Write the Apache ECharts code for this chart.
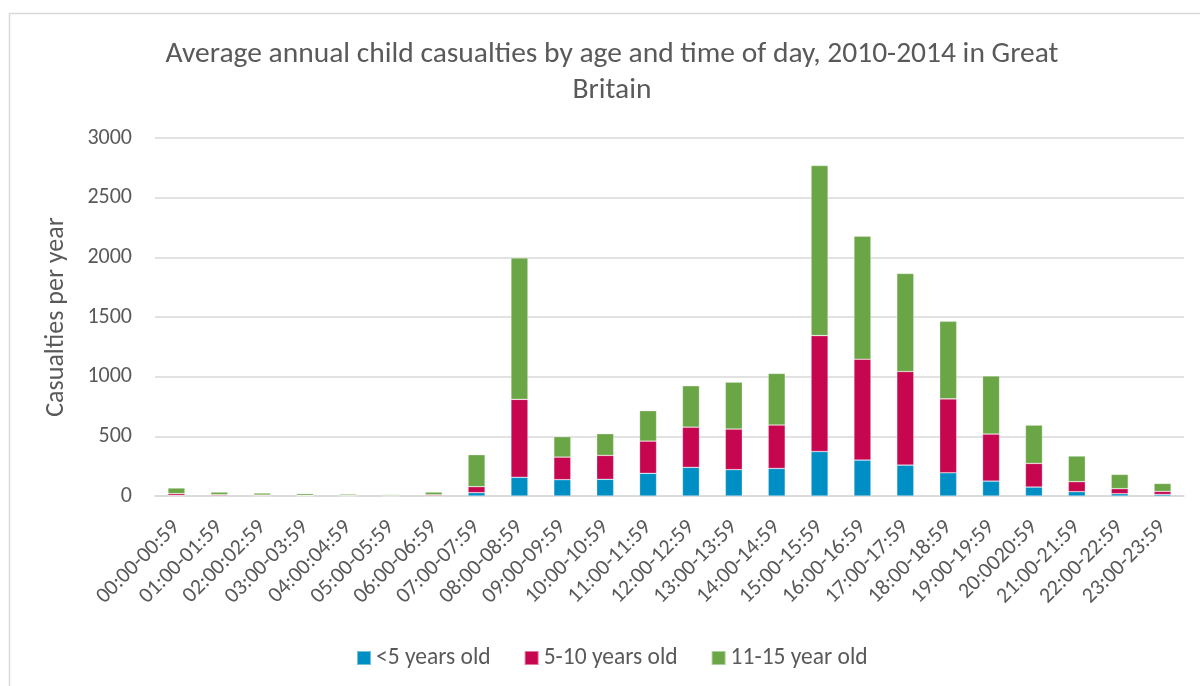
<!DOCTYPE html>
<html>
<head>
<meta charset="utf-8">
<script src="https://cdn.jsdelivr.net/npm/echarts@6/dist/echarts.min.js"></script>
<style>html,body{margin:0;padding:0;background:#fff}#c{width:1200px;height:686px}</style>
</head>
<body>
<div id="c"></div>
<script>
const categories = ["00:00-00:59","01:00-01:59","02:00:02:59","03:00-03:59","04:00:04:59","05:00-05:59","06:00-06:59","07:00-07:59","08:00-08:59","09:00-09:59","10:00-10:59","11:00-11:59","12:00-12:59","13:00-13:59","14:00-14:59","15:00-15:59","16:00-16:59","17:00-17:59","18:00-18:59","19:00-19:59","20:0020:59","21:00-21:59","22:00-22:59","23:00-23:59"];
const under5 = [5,3,2,1,1,1,2,28,157,137,140,190,240,221,231,373,301,259,195,125,75,36,19,13];
const age5to10 = [15,8,6,5,4,3,8,50,653,189,200,270,337,340,364,971,845,784,619,394,198,84,42,26];
const age11to15 = [47,22,17,14,11,8,23,268,1185,171,182,255,347,393,432,1425,1032,822,650,487,321,215,120,66];
const seriesNames = ["<5 years old","5-10 years old","11-15 year old"];
const yTicks = {min:0, max:3000, interval:500};

const FONT = "Carlito, Lato, sans-serif";
const TXT = "#595959";
const colors = ["#008fc5","#c6064f","#6aa645"];
const chart = echarts.init(document.getElementById('c'));
const mk = (name, data, color) => ({
  name, type:'bar', stack:'total', data, barWidth:17,
  itemStyle:{color, borderColor:'rgba(255,255,255,0.45)', borderWidth:0.6}
});
chart.setOption({
  animation:false,
  textStyle:{fontFamily:FONT},
  graphic:[{type:'rect', shape:{x:9.5,y:13.5,width:1400,height:900}, style:{fill:null, stroke:'#d9d9d9', lineWidth:1.5}, silent:true, z:-1}],
  title:{
    text:"Average annual child casualties by age and time of day, 2010-2014 in Great\nBritain",
    left:607, textAlign:'center', top:32,
    textStyle:{fontFamily:FONT, fontSize:29.5, fontWeight:'normal', color:TXT, lineHeight:36}
  },
  legend:{
    top:641, left:351, icon:'rect', itemWidth:14, itemHeight:14, itemGap:33, itemTextGap:6,
    textStyle:{fontFamily:FONT, fontSize:23.5, color:TXT}
  },
  grid:{left:155, right:16, top:138, bottom:190},
  xAxis:{
    type:'category', data:categories,
    axisLine:{lineStyle:{color:'#d9d9d9', width:1.5}},
    axisTick:{show:false},
    axisLabel:{rotate:45, interval:0, fontFamily:FONT, fontSize:22, color:TXT, margin:28}
  },
  yAxis:{
    type:'value', min:yTicks.min, max:yTicks.max, interval:yTicks.interval,
    name:'Casualties per year', nameLocation:'middle', nameGap:86,
    nameTextStyle:{fontFamily:FONT, fontSize:26, color:TXT},
    axisLine:{show:false}, axisTick:{show:false},
    axisLabel:{fontFamily:FONT, fontSize:22, color:TXT, margin:23, formatter:v=>String(v)},
    splitLine:{lineStyle:{color:'#d9d9d9', width:1.5}}
  },
  series:[mk(seriesNames[0],under5,colors[0]), mk(seriesNames[1],age5to10,colors[1]), mk(seriesNames[2],age11to15,colors[2])]
});
</script>
</body>
</html>
